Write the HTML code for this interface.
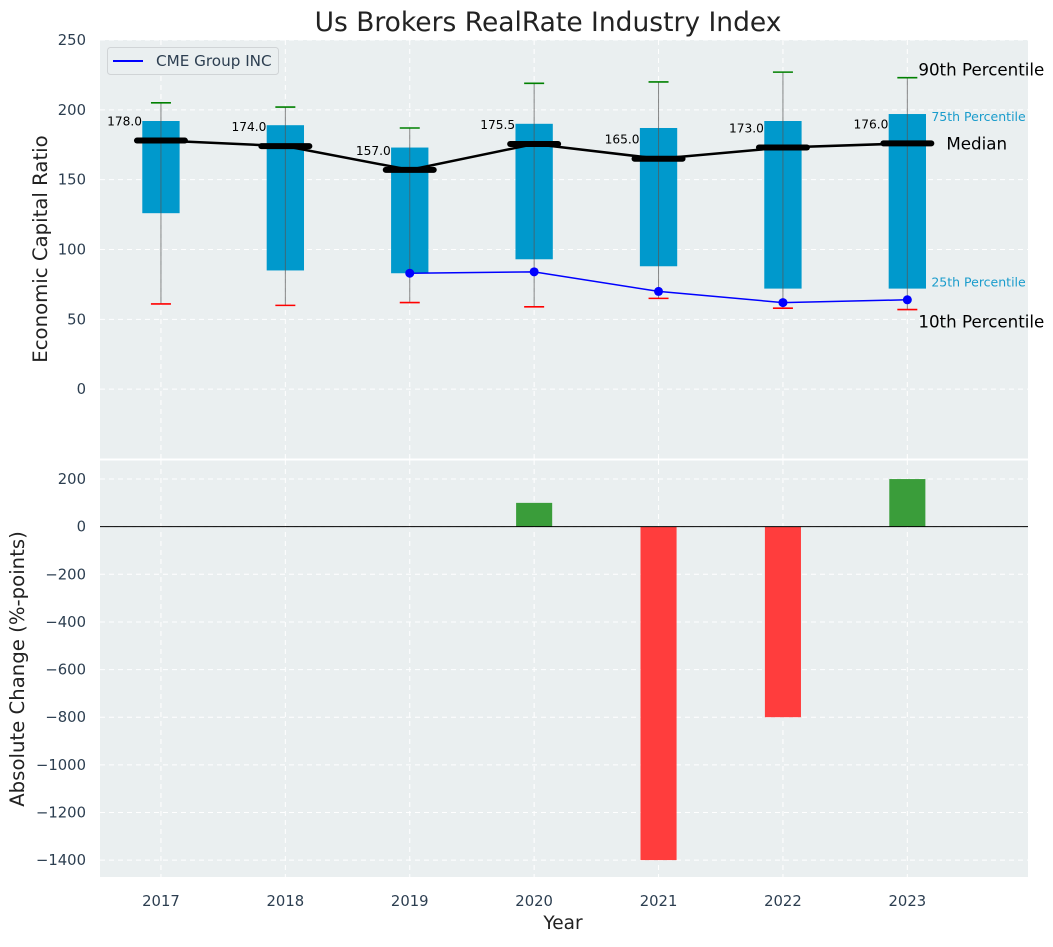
<!DOCTYPE html>
<html><head><meta charset="utf-8"><style>
body{margin:0;background:#fff;font-family:"Liberation Sans","DejaVu Sans",sans-serif}
svg text{font-family:"DejaVu Sans","Liberation Sans",sans-serif}
</style></head><body>
<svg id="c" width="1053" height="942" xmlns="http://www.w3.org/2000/svg"></svg>
<script>
const years=[2017,2018,2019,2020,2021,2022,2023];
const q1=[126,85,83,93,88,72,72];
const q3=[192,189,173,190,187,192,197];
const p10=[61,60,62,59,65,58,57];
const p90=[205,202,187,219,220,227,223];
const medians=[178,174,157,175.5,165,173,176];
const cmeYears=[2019,2020,2021,2022,2023];
const cmeVals=[83,84,70,62,64];
const changes=[0,0,0,100,-1400,-800,200];
const topTicks=[0,50,100,150,200,250];
const botTicks=[200,0,-200,-400,-600,-800,-1000,-1200,-1400];

const L=100,R=1028;
const x=v=>L+(v-2016.51)/(2023.97-2016.51)*(R-L);
const yT=v=>40+(250-v)/300*419;
const yB=v=>460+(280-v)/(280+1471)*417;
const svg=document.getElementById('c');
const NS='http://www.w3.org/2000/svg';
function add(tag,attrs,parent,txt){const e=document.createElementNS(NS,tag);for(const k in attrs)e.setAttribute(k,attrs[k]);if(txt!==undefined)e.textContent=txt;(parent||svg).appendChild(e);return e;}
const fmt=v=>v<0?'\u2212'+Math.abs(v):String(v);

let bg=add('rect',{x:L,y:40,width:R-L,height:419,fill:'#eaeff0'});


let bg2=add('rect',{x:L,y:460,width:R-L,height:417,fill:'#eaeff0'});



years.forEach(yr=>{
 add('line',{x1:x(yr),x2:x(yr),y1:40,y2:459,stroke:'#fff','stroke-dasharray':'5,4','stroke-width':1});
 add('line',{x1:x(yr),x2:x(yr),y1:460,y2:877,stroke:'#fff','stroke-dasharray':'5,4','stroke-width':1});
 let t=add('text',{x:x(yr),y:906,'text-anchor':'middle','font-size':14.8,fill:'#2c3e50'},null,yr);
 
 
});
topTicks.forEach(v=>{
 add('line',{x1:L,x2:R,y1:yT(v),y2:yT(v),stroke:'#fff','stroke-dasharray':'5,4'});
 let t=add('text',{x:86,y:yT(v)+5,'text-anchor':'end','font-size':14.8,fill:'#2c3e50'},null,fmt(v));
 
 
});
botTicks.forEach(v=>{
 add('line',{x1:L,x2:R,y1:yB(v),y2:yB(v),stroke:'#fff','stroke-dasharray':'5,4'});
 let t=add('text',{x:86,y:yB(v)+5,'text-anchor':'end','font-size':14.8,fill:'#2c3e50'},null,fmt(v));
 
 
});
add('line',{x1:L,x2:R,y1:459.5,y2:459.5,stroke:'#fff','stroke-width':2});

const bw=0.3;
years.forEach((yr,i)=>{
 let b=add('rect',{x:x(yr-bw/2),y:yT(q3[i]),width:x(yr+bw/2)-x(yr-bw/2),height:yT(q1[i])-yT(q3[i]),fill:'#0099cc'});
 
 
 let w=add('line',{x1:x(yr),x2:x(yr),y1:yT(p90[i]),y2:yT(p10[i]),stroke:'#555','stroke-opacity':0.7,'stroke-width':1});
 
 
 let h=add('line',{x1:x(yr)-10,x2:x(yr)+10,y1:yT(p90[i]),y2:yT(p90[i]),stroke:'green','stroke-width':1.6});
 
 
 let l=add('line',{x1:x(yr)-10,x2:x(yr)+10,y1:yT(p10[i]),y2:yT(p10[i]),stroke:'red','stroke-width':1.6});
 
 
});
let pts=years.map((yr,i)=>x(yr)+','+yT(medians[i])).join(' ');
let ml=add('polyline',{points:pts,fill:'none',stroke:'#000','stroke-width':2.5});


years.forEach((yr,i)=>{
 let m=add('line',{x1:x(yr)-24,x2:x(yr)+24,y1:yT(medians[i]),y2:yT(medians[i]),stroke:'#000','stroke-width':6,'stroke-linecap':'round'});
 
 
 let t=add('text',{x:x(yr)-19,y:yT(medians[i])-15,'text-anchor':'end','font-size':12.2,fill:'#000'},null,medians[i].toFixed(1));
 
 
});
let cp=cmeYears.map((yr,i)=>x(yr)+','+yT(cmeVals[i])).join(' ');
let cl=add('polyline',{points:cp,fill:'none',stroke:'blue','stroke-width':1.5});


cmeYears.forEach((yr,i)=>{
 let d=add('circle',{cx:x(yr),cy:yT(cmeVals[i]),r:4.5,fill:'blue'});
 
 
});
const xl=x(2023);
[['90th Percentile',xl+11,yT(p90[6])-2,16.7,'#000'],['75th Percentile',xl+24,yT(q3[6])+7,12.5,'#1a9ccc'],['Median',xl+39,yT(medians[6])+6,16.7,'#000'],['25th Percentile',xl+24,yT(q1[6])-2,12.5,'#1a9ccc'],['10th Percentile',xl+11,yT(p10[6])+18,16.7,'#000']].forEach(a=>{
 let t=add('text',{x:a[1],y:a[2],'font-size':a[3],fill:a[4]},null,a[0]);
 
 
});
years.forEach((yr,i)=>{
 if(!changes[i])return;
 const v=changes[i];
 let r=add('rect',{x:x(yr-0.145),width:x(yr+0.145)-x(yr-0.145),y:Math.min(yB(0),yB(v)),height:Math.abs(yB(v)-yB(0)),fill:v>0?'#3a9d3a':'#ff3d3d'});
 
 
});
let z=add('line',{x1:L,x2:R,y1:yB(0),y2:yB(0),stroke:'#000','stroke-width':1});


let lg=add('g',{});


add('rect',{x:107.5,y:47.5,width:171,height:27,rx:3,fill:'#eaeff0',stroke:'#d0d4d6'},lg);
add('line',{x1:113,x2:143,y1:61,y2:61,stroke:'blue','stroke-width':2},lg);
add('text',{x:156,y:66,'font-size':15.2,fill:'#2c3e50'},lg,'CME Group INC');
let tt=add('text',{x:548,y:31,'text-anchor':'middle','font-size':26.5,fill:'#222'},null,'Us Brokers RealRate Industry Index');


let xt=add('text',{x:563,y:929,'text-anchor':'middle','font-size':18.5,fill:'#222'},null,'Year');


let yt1=add('text',{x:0,y:0,'text-anchor':'middle','font-size':19.7,fill:'#222',transform:'translate(47,249) rotate(-90)'},null,'Economic Capital Ratio');


let yt2=add('text',{x:0,y:0,'text-anchor':'middle','font-size':19.7,fill:'#222',transform:'translate(24,669) rotate(-90)'},null,'Absolute Change (%-points)');


</script>
</body></html>
